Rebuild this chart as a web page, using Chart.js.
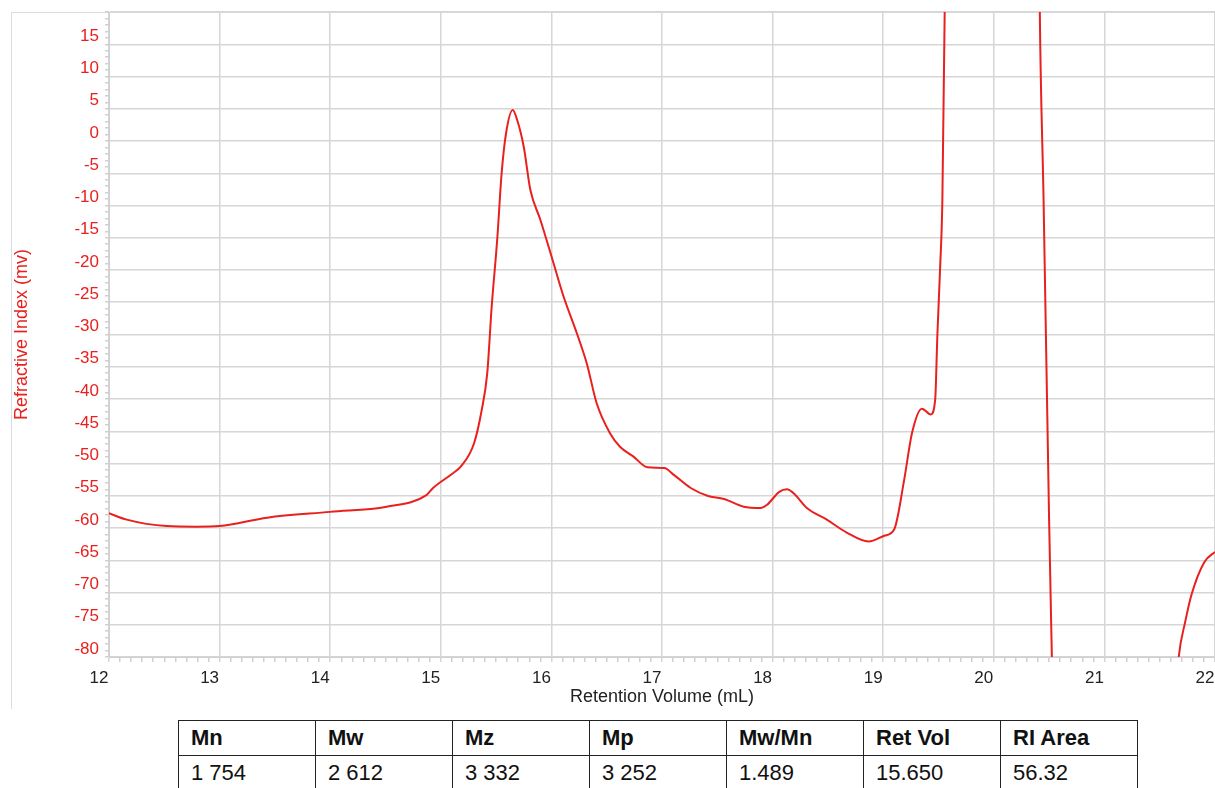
<!DOCTYPE html>
<html>
<head>
<meta charset="utf-8">
<script src="https://cdn.jsdelivr.net/npm/chart.js@4.4.1/dist/chart.umd.min.js"></script>
<style>
  html, body { margin: 0; padding: 0; background: #fff; width: 1215px; height: 788px; overflow: hidden; }
  #panel { position: absolute; left: 11px; top: 12px; width: 1210px; height: 697px;
           border-left: 1px solid #d7dde6; border-top: 1px solid #d7dde6; box-sizing: border-box; }
  #chart { position: absolute; left: 0; top: 0; }
  table { position: absolute; left: 178px; top: 720px; border-collapse: collapse; table-layout: fixed;
          font-family: "Liberation Sans", Arial, sans-serif; font-size: 22px; color: #111; }
  td, th { border: 1.5px solid #222; width: 137px; height: 35px; padding: 0 0 0 12px; text-align: left;
           box-sizing: border-box; }
  th { font-weight: bold; }
</style>
</head>
<body>
<div id="panel"></div>
<canvas id="chart" width="1215" height="710"></canvas>
<table id="stats"><thead><tr id="hdr"></tr></thead><tbody><tr id="vals"></tr></tbody></table>
<script>
// Retention volume (mL) samples
const retentionVolume = [
  12.0, 12.16, 12.52, 12.79, 13.0, 13.43, 14.0, 14.51, 14.87, 14.93,
  15.11, 15.18, 15.30, 15.37, 15.42, 15.46, 15.51, 15.55, 15.59, 15.65,
  15.69, 15.75, 15.81, 15.90, 16.01, 16.11, 16.23, 16.32, 16.41, 16.53,
  16.62, 16.74, 16.87, 17.02, 17.11, 17.26, 17.41, 17.56, 17.74, 17.89,
  17.95, 18.06, 18.13, 18.19, 18.31, 18.49, 18.67, 18.87, 19.01, 19.10,
  19.19, 19.26, 19.35, 19.43, 19.47, 19.49, 19.515, 19.535, 19.556, 19.58,
  19.98, 20.416, 20.45, 20.50, 20.525, 20.56, 21.1, 21.62, 21.672, 21.73,
  21.79, 21.903, 22.0
];
// Refractive index signal (mv)
const refractiveIndex = [
  -57.7, -58.7, -59.7, -59.8, -59.7, -58.4, -57.5, -56.7, -54.9, -53.8,
  -51.5, -50.5, -46.9, -41.7, -36.0, -25.7, -15.3, -5.0, 1.2, 4.8,
  3.3, -0.9, -7.6, -12.2, -18.4, -24.1, -29.8, -34.5, -40.7, -45.3,
  -47.4, -48.9, -50.6, -50.7, -51.8, -53.8, -55.0, -55.5, -56.7, -56.9,
  -56.4, -54.4, -54.0, -54.6, -56.9, -58.7, -60.7, -62.1, -61.2, -60.2,
  -52.5, -45.3, -41.5, -42.4, -40.1, -30.0, -19.5, -9.1, 20, 80,
  900, 20, -9.1, -58.7, -80, -110, -250, -92, -80, -74.6,
  -70.2, -65.3, -63.7
];
// Axis ranges / ticks
const xRange = [12, 22];
const yRange = [-80, 20];
const xMajorStep = 1;
const yMajorStep = 5;
// Results table
const tableHeaders = ["Mn", "Mw", "Mz", "Mp", "Mw/Mn", "Ret Vol", "RI Area"];
const tableValues = ["1 754", "2 612", "3 332", "3 252", "1.489", "15.650", "56.32"];

const hdr = document.getElementById('hdr');
const vals = document.getElementById('vals');
tableHeaders.forEach(h => { const th = document.createElement('th'); th.textContent = h; hdr.appendChild(th); });
tableValues.forEach(v => { const td = document.createElement('td'); td.textContent = v; vals.appendChild(td); });

const points = retentionVolume.map((x, i) => ({ x: x, y: refractiveIndex[i] }));
const isMult = (v, s) => Math.abs(v / s - Math.round(v / s)) < 1e-6;
const RED = '#e8201e';
const GRID = '#d6d6d6';
const FONT = "'Liberation Sans', Arial, sans-serif";

new Chart(document.getElementById('chart'), {
  type: 'line',
  data: {
    datasets: [{
      data: points,
      borderColor: RED,
      borderWidth: 2,
      pointRadius: 0,
      fill: false,
      cubicInterpolationMode: 'monotone'
    }]
  },
  options: {
    responsive: false,
    animation: false,
    devicePixelRatio: 1,
    layout: { padding: { top: 12, left: 0, right: 0, bottom: 0 } },
    plugins: { legend: { display: false }, tooltip: { enabled: false } },
    scales: {
      x: {
        type: 'linear',
        min: xRange[0], max: xRange[1],
        border: { color: '#cfcfcf', width: 1 },
        grid: {
          color: ctx => (ctx.tick && isMult(ctx.tick.value, xMajorStep)) ? GRID : 'rgba(0,0,0,0)',
          lineWidth: 1.5,
          tickColor: ctx => (ctx.tick && isMult(ctx.tick.value, xMajorStep)) ? GRID : '#d0d0d0',
          tickLength: 5,
          drawTicks: true
        },
        ticks: {
          stepSize: 0.1,
          autoSkip: false,
          maxRotation: 0,
          labelOffset: -10,
          padding: 6,
          color: '#222',
          font: { family: FONT, size: 17 },
          callback: v => isMult(v, xMajorStep) ? String(Math.round(v)) : ''
        },
        title: {
          display: true,
          text: 'Retention Volume (mL)',
          color: '#222',
          font: { family: FONT, size: 18 },
          padding: { top: 0, bottom: 2 }
        },
        afterFit: s => { s.height = 53; s.paddingLeft = 0; s.paddingRight = 0; }
      },
      y: {
        min: yRange[0], max: yRange[1],
        border: { color: '#cfcfcf', width: 1 },
        grid: {
          color: ctx => (ctx.tick && isMult(ctx.tick.value, yMajorStep)) ? GRID : 'rgba(0,0,0,0)',
          lineWidth: 1.5,
          tickColor: '#d0d0d0',
          tickLength: 4
        },
        ticks: {
          stepSize: 1,
          autoSkip: false,
          labelOffset: -8,
          padding: 6,
          color: RED,
          font: { family: FONT, size: 17 },
          callback: v => (isMult(v, yMajorStep) && v < yRange[1]) ? String(Math.round(v)) : ''
        },
        title: {
          display: true,
          text: 'Refractive Index (mv)',
          color: RED,
          font: { family: FONT, size: 18 },
          padding: { top: 11, bottom: 0 }
        },
        afterFit: s => { s.width = 109; s.paddingTop = 0; s.paddingBottom = 0; }
      }
    }
  }
});
</script>
</body>
</html>
